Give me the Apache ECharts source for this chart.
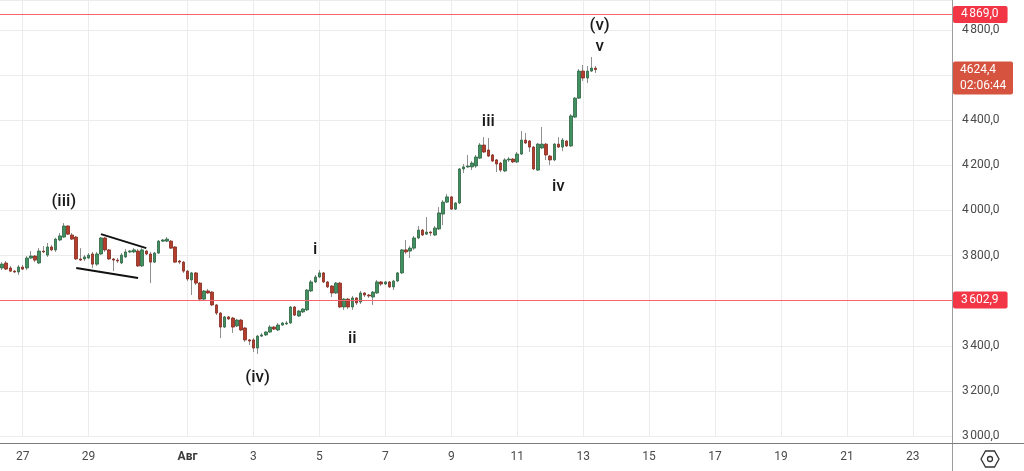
<!DOCTYPE html>
<html>
<head>
<meta charset="utf-8">
<script src="https://cdn.jsdelivr.net/npm/echarts@6/dist/echarts.min.js"></script>
<style>
  html, body { margin: 0; padding: 0; background: #fff; }
  #chart { width: 1024px; height: 471px; }
</style>
</head>
<body>
<div id="chart"></div>
<script>
// 3h candles
const opens = [
  3745, 3767, 3745, 3731, 3727, 3749, 3745, 3789, 3798, 3767,
  3820, 3802, 3838, 3825, 3869, 3882, 3931, 3891, 3882, 3785,
  3785, 3789, 3807, 3762, 3807, 3878, 3825, 3785, 3780, 3767,
  3794, 3816, 3816, 3820, 3754, 3820, 3807, 3771, 3811, 3864,
  3864, 3864, 3838, 3776, 3771, 3731, 3692, 3723, 3678, 3607,
  3643, 3638, 3581, 3545, 3483, 3528, 3523, 3488, 3514, 3479,
  3426, 3426, 3390, 3443, 3448, 3461, 3483, 3470, 3492, 3497,
  3501, 3572, 3532, 3550, 3559, 3643, 3683, 3705, 3723, 3683,
  3665, 3634, 3678, 3572, 3607, 3572, 3612, 3594, 3634, 3625,
  3616, 3634, 3683, 3674, 3683, 3661, 3687, 3723, 3825, 3820,
  3833, 3878, 3913, 3895, 3904, 3891, 3918, 3984, 4037, 4060,
  4006, 4033, 4184, 4193, 4193, 4197, 4232, 4290, 4268, 4246,
  4224, 4210, 4175, 4224, 4228, 4215, 4250, 4312, 4308, 4281,
  4179, 4277, 4294, 4241, 4224, 4294, 4281, 4308, 4286, 4414,
  4498, 4618, 4587, 4618, 4631
]
const closes = [
  3762, 3740, 3731, 3727, 3749, 3740, 3789, 3798, 3780, 3820,
  3816, 3838, 3825, 3873, 3887, 3931, 3895, 3873, 3785, 3780,
  3794, 3802, 3762, 3807, 3878, 3825, 3785, 3780, 3776, 3802,
  3816, 3820, 3825, 3754, 3825, 3807, 3771, 3811, 3864, 3869,
  3873, 3833, 3771, 3771, 3731, 3696, 3723, 3678, 3607, 3643,
  3634, 3581, 3545, 3483, 3528, 3519, 3483, 3514, 3470, 3426,
  3421, 3390, 3443, 3448, 3461, 3483, 3474, 3492, 3501, 3501,
  3572, 3536, 3554, 3563, 3647, 3683, 3705, 3723, 3683, 3661,
  3634, 3678, 3572, 3607, 3572, 3612, 3590, 3634, 3625, 3621,
  3638, 3683, 3674, 3683, 3661, 3687, 3723, 3825, 3816, 3833,
  3878, 3913, 3891, 3904, 3900, 3922, 3989, 4037, 4060, 4006,
  4033, 4184, 4193, 4197, 4210, 4237, 4290, 4259, 4241, 4219,
  4206, 4179, 4224, 4228, 4215, 4250, 4312, 4299, 4281, 4184,
  4294, 4294, 4246, 4224, 4294, 4281, 4312, 4286, 4419, 4498,
  4618, 4587, 4618, 4631, 4624.4
]
const lows = [
  3736, 3736, 3727, 3723, 3714, 3736, 3736, 3785, 3771, 3762,
  3811, 3794, 3820, 3816, 3864, 3878, 3891, 3869, 3780, 3776,
  3776, 3785, 3745, 3754, 3802, 3816, 3780, 3731, 3767, 3762,
  3789, 3811, 3811, 3749, 3749, 3802, 3678, 3767, 3807, 3860,
  3860, 3829, 3767, 3762, 3723, 3687, 3625, 3669, 3598, 3603,
  3630, 3576, 3536, 3434, 3479, 3514, 3457, 3483, 3465, 3417,
  3403, 3372, 3364, 3439, 3443, 3457, 3470, 3465, 3488, 3492,
  3497, 3532, 3528, 3545, 3554, 3638, 3678, 3700, 3678, 3656,
  3616, 3630, 3567, 3559, 3563, 3559, 3581, 3585, 3616, 3612,
  3581, 3630, 3665, 3669, 3656, 3647, 3683, 3718, 3807, 3789,
  3825, 3873, 3887, 3891, 3887, 3887, 3913, 3935, 4033, 4002,
  4002, 4028, 4166, 4188, 4179, 4188, 4228, 4255, 4237, 4215,
  4170, 4170, 4170, 4215, 4210, 4210, 4246, 4294, 4259, 4179,
  4175, 4272, 4224, 4201, 4219, 4277, 4263, 4281, 4281, 4410,
  4494, 4574, 4565, 4614, 4609
]
const highs = [
  3771, 3776, 3754, 3736, 3758, 3758, 3798, 3820, 3802, 3833,
  3842, 3856, 3847, 3878, 3900, 3944, 3935, 3900, 3887, 3833,
  3802, 3811, 3816, 3816, 3882, 3882, 3829, 3789, 3789, 3811,
  3829, 3825, 3833, 3829, 3833, 3825, 3816, 3816, 3869, 3873,
  3882, 3869, 3842, 3780, 3776, 3736, 3727, 3727, 3683, 3647,
  3652, 3643, 3585, 3550, 3532, 3532, 3528, 3519, 3519, 3483,
  3430, 3434, 3448, 3457, 3465, 3492, 3488, 3501, 3505, 3510,
  3576, 3576, 3559, 3567, 3652, 3692, 3714, 3736, 3727, 3687,
  3669, 3683, 3683, 3612, 3612, 3621, 3616, 3643, 3638, 3630,
  3643, 3692, 3687, 3687, 3687, 3692, 3727, 3829, 3869, 3842,
  3887, 3931, 3918, 3971, 3909, 3931, 4015, 4046, 4073, 4064,
  4037, 4188, 4206, 4246, 4219, 4246, 4299, 4325, 4321, 4250,
  4228, 4215, 4232, 4237, 4232, 4259, 4352, 4343, 4312, 4286,
  4299, 4370, 4299, 4246, 4299, 4325, 4321, 4312, 4427, 4503,
  4627, 4645, 4640, 4680, 4640
]

const tickDays = ['07-27', '07-29', '08-01', '08-03', '08-05', '08-07', '08-09',
  '08-11', '08-13', '08-15', '08-17', '08-19', '08-21', '08-23']
const tickLabels = ['27', '29', 'Авг', '3', '5', '7', '9', '11', '13', '15', '17', '19', '21', '23']

const levelHigh = 4869.0
const levelLow = 3602.9
const lastPrice = 4624.4
const countdown = '02:06:44'

// wave marks (elliott count)
const waveText = ['(iii)', '(iv)', 'i', 'ii', 'iii', 'iv', 'v', '(v)']
const waveIndex = [15, 62, 76, 85, 118, 135, 145, 145]
const wavePrice = [4037, 3257, 3825, 3430, 4392, 4104, 4724, 4818]

// flag / wedge lines
const flagTop = [[24, 3895], [35, 3833]]
const flagBottom = [[18, 3745], [33, 3700]]

const pad = n => String(n).padStart(2, '0')
const categories = []
const t0 = Date.UTC(2023, 6, 26, 9)
for (let i = 0; i < 231; i++) {
  const d = new Date(t0 + i * 3 * 3600 * 1000)
  categories.push(pad(d.getUTCMonth() + 1) + '-' + pad(d.getUTCDate()) + ' ' + pad(d.getUTCHours()))
}
const isTick = (idx, val) => val.endsWith(' 00') && tickDays.includes(val.slice(0, 5))

const fmtPrice = v => {
  const parts = v.toFixed(1).split('.')
  return parts[0].replace(/\B(?=(\d{3})+$)/g, '\u202f') + ',' + parts[1]
}

const wickData = opens.map((o, i) => [o, closes[i], lows[i], highs[i]])
const bodyData = opens.map((o, i) => [o, closes[i], Math.min(o, closes[i]), Math.max(o, closes[i])])

const FONT = 'Roboto, sans-serif'
const red = '#f23645'

const levelLine = v => ({
  yAxis: v,
  lineStyle: { color: '#f7646f', width: 1, type: 'solid' },
  label: {
    show: true,
    position: 'end',
    distance: 1,
    formatter: fmtPrice(v),
    color: '#fff',
    backgroundColor: red,
    borderRadius: 2,
    padding: [3, 9, 2, 8],
    fontSize: 12,
    fontFamily: FONT
  }
})
const trendLine = pts => [
  { coord: pts[0], lineStyle: { color: '#111', width: 2, type: 'solid' }, label: { show: false } },
  { coord: pts[1] }
]

const chart = echarts.init(document.getElementById('chart'))
chart.setOption({
  animation: false,
  backgroundColor: '#fff',
  grid: { left: 0, right: 72, top: 0, bottom: 35 },
  xAxis: {
    type: 'category',
    data: categories,
    offset: 7,
    axisLine: { show: false },
    axisTick: { show: false },
    axisLabel: {
      interval: isTick,
      margin: 8,
      fontSize: 12,
      fontFamily: FONT,
      color: '#4a4a4a',
      formatter: val => {
        const t = tickLabels[tickDays.indexOf(val.slice(0, 5))]
        return t === 'Авг' ? '{b|' + t + '}' : t
      },
      rich: { b: { fontWeight: 'bold', fontSize: 12, fontFamily: FONT, color: '#3a3a3a' } }
    },
    splitLine: {
      show: true,
      interval: isTick,
      alignWithLabel: true,
      lineStyle: { color: '#ececec', width: 1 }
    }
  },
  yAxis: {
    type: 'value',
    position: 'right',
    min: 3000,
    max: 4933,
    interval: 200,
    axisLine: { show: false },
    axisTick: { show: false },
    axisLabel: {
      margin: 10,
      fontSize: 12,
      fontFamily: FONT,
      color: '#4a4a4a',
      showMaxLabel: false,
      formatter: v => (v % 200 === 0 ? fmtPrice(v) : '')
    },
    splitLine: { lineStyle: { color: '#ececec', width: 1 } }
  },
  series: [
    {
      name: 'wicks',
      type: 'candlestick',
      data: wickData,
      barWidth: 1,
      itemStyle: {
        color: '#8f8f8f', color0: '#8f8f8f',
        borderColor: '#8f8f8f', borderColor0: '#8f8f8f', borderWidth: 1
      },
      silent: true
    },
    {
      name: 'bodies',
      type: 'candlestick',
      data: bodyData,
      barWidth: 3,
      itemStyle: {
        color: '#42905f', color0: '#b53d2c',
        borderColor: '#2a6340', borderColor0: '#82281d', borderWidth: 0.8
      },
      markLine: {
        silent: true,
        symbol: ['none', 'none'],
        animation: false,
        data: [
          levelLine(levelHigh),
          levelLine(levelLow),
          trendLine(flagTop),
          trendLine(flagBottom)
        ]
      },
      markPoint: {
        silent: true,
        symbol: 'circle',
        symbolSize: 1,
        itemStyle: { color: 'rgba(0,0,0,0)' },
        label: {
          show: true,
          position: 'inside',
          fontSize: 17,
          fontWeight: 500,
          fontFamily: FONT,
          color: '#1a1a1a'
        },
        data: waveText.map((t, i) => ({
          coord: [waveIndex[i], wavePrice[i]],
          value: t,
          label: { formatter: t }
        }))
      }
    }
  ]
})

// current price tag follows the y scale
const py = chart.convertToPixel({ seriesIndex: 1 }, [opens.length - 1, lastPrice])[1]
chart.setOption({
  graphic: [
    { type: 'line', z: 50, shape: { x1: 952.5, y1: 0, x2: 952.5, y2: 471 }, style: { stroke: '#9c9c9c', lineWidth: 1 } },
    { type: 'line', z: 50, shape: { x1: 0, y1: 443.5, x2: 1024, y2: 443.5 }, style: { stroke: '#7c7c7c', lineWidth: 1 } },
    { type: 'rect', z: 60, shape: { x: 953, y: py - 8, width: 60, height: 33, r: 2 }, style: { fill: '#d5533f' } },
    { type: 'text', z: 61, x: 960, y: py, style: { text: fmtPrice(lastPrice).replace('\u202f', ''), fill: '#fff', font: '12px ' + FONT, verticalAlign: 'middle' } },
    { type: 'text', z: 61, x: 960, y: py + 16, style: { text: countdown, fill: '#fff', font: '12px ' + FONT, verticalAlign: 'middle' } },
    {
      type: 'polygon', z: 60,
      shape: { points: [[981, 459], [985.5, 451], [994.5, 451], [999, 459], [994.5, 467], [985.5, 467]] },
      style: { fill: 'none', stroke: '#333', lineWidth: 1.3 }
    },
    { type: 'circle', z: 60, shape: { cx: 990, cy: 459, r: 2.5 }, style: { fill: 'none', stroke: '#333', lineWidth: 1.3 } }
  ]
})
</script>
</body>
</html>
